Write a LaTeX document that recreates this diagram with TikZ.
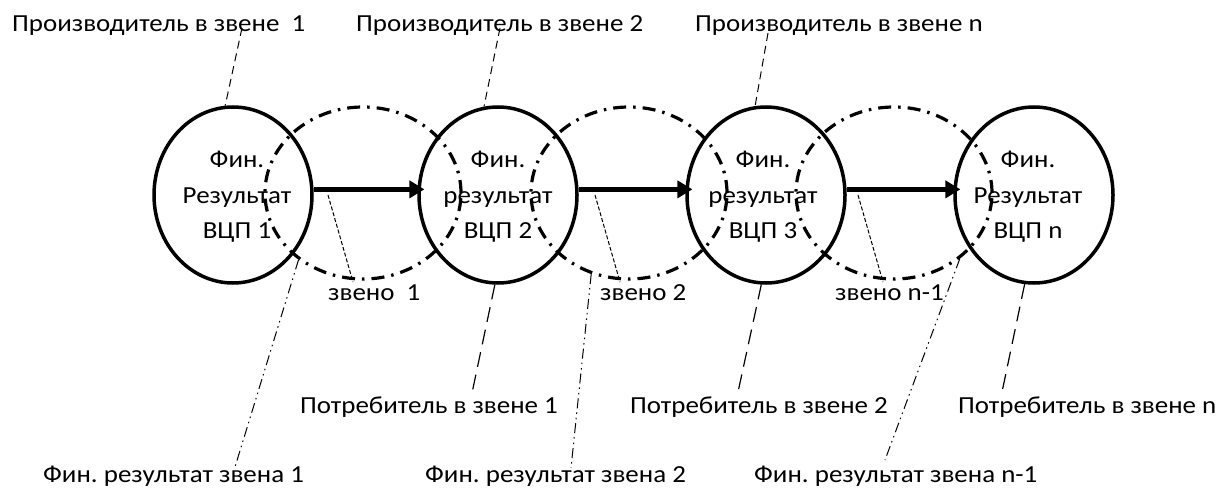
\documentclass[tikz,border=0pt]{standalone}
\usepackage{fontspec}
\setmainfont{Carlito}[FakeStretch=1.1]
\usetikzlibrary{shapes.geometric,arrows.meta,calc}
\tikzset{
  lbl/.style={inner sep=0pt, anchor=base west, font=\fontsize{24.5}{28}\selectfont},
  inner/.style={inner sep=0pt, align=center, font=\fontsize{24.5}{35.5}\selectfont},
  res/.style={ellipse, draw, line width=3.5pt, minimum width=158pt, minimum height=176pt, inner sep=0pt},
  zveno/.style={ellipse, draw, line width=3.2pt, minimum width=196pt, minimum height=172pt, inner sep=0pt,
    dash pattern=on 13pt off 7pt on 2.5pt off 7pt},
  flow/.style={line width=5pt, -{Triangle[length=15pt,width=17pt]}, shorten >=-7pt},
  prodline/.style={line width=1pt, dash pattern=on 8pt off 5pt},
  consline/.style={line width=1.2pt, dash pattern=on 15pt off 8pt},
  zline/.style={line width=1pt, dash pattern=on 4pt off 2pt},
  finline/.style={line width=1pt, dash pattern=on 10pt off 4pt on 1.5pt off 4pt on 1.5pt off 4pt},
}
\begin{document}
\frenchspacing
\begin{tikzpicture}[x=1pt,y=-1pt]
\useasboundingbox (0,0) rectangle (1220,487);
% link ellipses
\node[zveno] (l1) at (363,193) {};
\node[zveno] (l2) at (629,193) {};
\node[zveno] (l3) at (894,193) {};
% result ellipses
\node[res] (e1) at (233,195) {};
\node[res] (e2) at (498,195) {};
\node[res] (e3) at (766,195) {};
\node[res] (e4) at (1034,195) {};
\node[inner] (t1) at (237,197) {Фин.\\Результат\\ВЦП 1};
\node[inner] (t2) at (498,197) {Фин.\\результат\\ВЦП 2};
\node[inner] (t3) at (763,197) {Фин.\\результат\\ВЦП 3};
\node[inner] (t4) at (1028,197) {Фин.\\Результат\\ВЦП n};
% arrows
\draw[flow] (e1.4) -- (e2.176);
\draw[flow] (e2.4) -- (e3.176);
\draw[flow] (e3.4) -- (e4.176);
% labels
\node[lbl] (p1) at (12,32) {Производитель в звене~~1};
\node[lbl] (p2) at (356,32) {Производитель в звене 2};
\node[lbl] (p3) at (695,32) {Производитель в звене n};
\node[lbl] (z1) at (328,300) {звено~~1};
\node[lbl] (z2) at (600,300) {звено 2};
\node[lbl] (z3) at (835,300) {звено n-1};
\node[lbl] (c1) at (300,413) {Потребитель в звене 1};
\node[lbl] (c2) at (630,413) {Потребитель в звене 2};
\node[lbl] (c3) at (958,413) {Потребитель в звене n};
\node[lbl] (f1) at (43,482) {Фин. результат звена 1};
\node[lbl] (f2) at (425,482) {Фин. результат звена 2};
\node[lbl] (f3) at (754,482) {Фин. результат звена n-1};
% free ends
\coordinate (p1e) at (242,28);
\coordinate (p2e) at (500,28);
\coordinate (p3e) at (768,33);
\coordinate (c1e) at (472,393);
\coordinate (c2e) at (738,392);
\coordinate (c3e) at (1002,392);
\coordinate (z1s) at (328,195);
\coordinate (z1e) at (353,282);
\coordinate (z2s) at (595,195);
\coordinate (z2e) at (620,282);
\coordinate (z3s) at (858,195);
\coordinate (z3e) at (883,282);
\coordinate (f1e) at (235,467);
\coordinate (f2e) at (571,468);
\coordinate (f3e) at (885,460);
% leaders
\draw[prodline] (p1e) -- (e1.95);
\draw[prodline] (p2e) -- (e2.99);
\draw[prodline] (p3e) -- (e3.97);
\draw[consline] (e2.268) -- (c1e);
\draw[consline] (e3.267) -- (c2e);
\draw[consline] (e4.264) -- (c3e);
\draw[zline] (z1s) -- (z1e);
\draw[zline] (z2s) -- (z2e);
\draw[zline] (z3s) -- (z3e);
\draw[finline] (l1.226) -- (f1e);
\draw[finline] (l2.245) -- (f2e);
\draw[finline] (l3.-45) -- (f3e);
\end{tikzpicture}
\end{document}
